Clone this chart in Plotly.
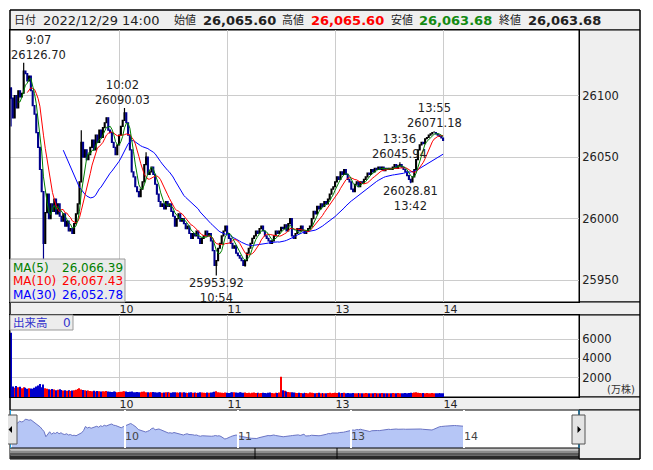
import plotly.graph_objects as go
import pandas as pd

W, H = 653, 470
OX, OY = 8, 8  # page body margin: reference pixel coords -> figure coords

# 1-minute bars, index 0 = 9:00, lunch break removed (index 150 = 12:30)
first_open = 26106.0
closes = [
    26098, 26082, 26100, 26090, 26104, 26099, 26102, 26120, 26118, 26112,
    26116, 26104, 26092, 26085, 26070, 26058, 26040, 26022, 25980, 26005,
    26020, 26000, 26012, 26006, 26016, 26004, 26012, 26002, 25998, 26004,
    25994, 25998, 25990, 25992, 25988, 25996, 26004, 26012, 26030, 26062,
    26050, 26056, 26048, 26052, 26058, 26064, 26056, 26068, 26062, 26072,
    26066, 26074, 26078, 26082, 26072, 26070, 26062, 26058, 26052, 26060,
    26068, 26075, 26080, 26086, 26078, 26068, 26056, 26038, 26034, 26026,
    26022, 26018, 26024, 26030, 26044, 26050, 26036, 26038, 26042, 26036,
    26028, 26020, 26014, 26010, 26012, 26008, 26014, 26010, 26012, 26006,
    26002, 25994, 26000, 26004, 25998, 26000, 25996, 25992, 25994, 25988,
    25984, 25988, 25986, 25990, 25984, 25980, 25984, 25986, 25990, 25986,
    25988, 25982, 25974, 25962, 25966, 25976, 25980, 25986, 25990, 25994,
    25988, 25984, 25980, 25976, 25978, 25972, 25970, 25968, 25966, 25962,
    25966, 25972, 25976, 25980, 25984, 25986, 25990, 25988, 25992, 25994,
    25990, 25986, 25984, 25982, 25980, 25982, 25986, 25990, 25988, 25990,
    25993, 25992, 25995, 25990, 25996, 26000, 25986, 25984, 25988, 25992,
    25990, 25994, 25990, 25988, 25990, 25992, 25994, 26000, 26006, 26004,
    26010, 26008, 26012, 26010, 26014, 26012, 26016, 26020, 26024, 26026,
    26030, 26034, 26032, 26038, 26036, 26040, 26036, 26032, 26030, 26024,
    26022, 26028, 26030, 26026, 26030, 26029, 26032, 26034, 26037, 26036,
    26040, 26038, 26041, 26040, 26042, 26040, 26042, 26039, 26041, 26040,
    26041, 26040, 26042, 26044, 26041, 26043, 26044, 26042, 26040, 26038,
    26035, 26032, 26030, 26034, 26040, 26048, 26056, 26060, 26062, 26061,
    26065, 26066, 26068, 26069, 26070, 26070, 26069, 26068, 26067, 26065.6,
    26063.68,
]
# volume in 万株
volume = [
    6650, 1100, 950, 1150, 1000, 1050, 900, 1000, 950, 850,
    900, 880, 850, 950, 1100, 1200, 1350, 1000, 1300, 900,
    850, 800, 760, 820, 780, 700, 760, 800, 720, 680,
    700, 650, 700, 620, 680, 700, 760, 820, 900, 780,
    720, 700, 650, 680, 620, 600, 640, 580, 620, 600,
    560, 600, 580, 620, 560, 540, 520, 560, 540, 500,
    520, 540, 560, 600, 560, 520, 540, 560, 500, 480,
    520, 500, 480, 540, 560, 500, 480, 460, 500, 520,
    480, 460, 500, 480, 440, 460, 500, 480, 460, 440,
    480, 500, 460, 440, 480, 460, 500, 440, 420, 460,
    480, 440, 460, 420, 440, 480, 460, 440, 420, 460,
    440, 460, 500, 540, 600, 480, 460, 440, 420, 460,
    440, 420, 460, 480, 500, 460, 440, 480, 460, 440,
    460, 420, 440, 400, 440, 460, 420, 440, 400, 420,
    440, 420, 400, 440, 460, 420, 400, 440, 420, 460,
    2100, 700, 640, 580, 520, 500, 480, 460, 440, 420,
    440, 420, 400, 440, 420, 400, 460, 440, 420, 400,
    420, 440, 400, 420, 380, 400, 420, 440, 400, 420,
    440, 420, 460, 400, 420, 440, 400, 420, 380, 400,
    420, 400, 380, 420, 400, 380, 400, 420, 380, 400,
    400, 380, 420, 400, 380, 400, 420, 400, 380, 400,
    380, 400, 420, 380, 400, 420, 400, 380, 400, 420,
    400, 420, 440, 420, 460, 500, 440, 420, 400, 420,
    400, 420, 400, 380, 420, 400, 380, 400, 420, 400,
    380,
]
high_marks = {0: 26107, 7: 26126.70, 39: 26072, 63: 26090.03, 75: 26054,
              216: 26045.94, 235: 26071.18}
low_marks = {0: 26075, 18: 25966, 114: 25953.92, 130: 25961, 222: 26028.81}

tick_minutes = [60, 120, 180, 240]
tick_labels = ["10", "11", "13", "14"]
price_ticks = [25950, 26000, 26050, 26100]
volume_ticks = [2000, 4000, 6000]

# minute, price, time text, value text, above the point?, x shift
peak_labels = [
    (7, 26126.70, "9:07", "26126.70", True, 15),
    (63, 26090.03, "10:02", "26090.03", True, -2),
    (114, 25953.92, "10:54", "25953.92", False, 0),
    (216, 26045.94, "13:36", "26045.94", True, 0),
    (222, 26028.81, "13:42", "26028.81", False, 0),
    (235, 26071.18, "13:55", "26071.18", True, 0),
]
ma_legend = [("MA(5)", "26,066.39", "#008000"),
             ("MA(10)", "26,067.43", "#ff0000"),
             ("MA(30)", "26,052.78", "#0000ff")]
header_items = [  # text, left px, size, bold, color
    ("日付", 12, 11, False, "#222"),
    ("2022/12/29 14:00", 41, 13, False, "#222"),
    ("始値", 172, 11, False, "#222"),
    ("26,065.60", 201, 13, True, "#222"),
    ("高値", 280, 11, False, "#222"),
    ("26,065.60", 309, 13, True, "#ff0000"),
    ("安値", 389, 11, False, "#222"),
    ("26,063.68", 417, 13, True, "#138a13"),
    ("終値", 497, 11, False, "#222"),
    ("26,063.68", 526, 13, True, "#222"),
]

df = pd.DataFrame({"close": closes, "volume": volume})
df["open"] = [first_open] + closes[:-1]
df["high"] = df[["open", "close"]].max(axis=1)
df["low"] = df[["open", "close"]].min(axis=1)
for k, v in high_marks.items():
    df.loc[k, "high"] = max(v, df.loc[k, "high"])
for k, v in low_marks.items():
    df.loc[k, "low"] = min(v, df.loc[k, "low"])
for n in (5, 10, 30):
    df[f"ma{n}"] = df["close"].rolling(n).mean()
up = df["close"] >= df["open"]
vol_colors = ["#ff0000" if u else "#0000cc" for u in up]


def fx(x):
    return (x - OX) / W


def fy(y):
    return 1 - (y - OY) / H


def px_rect(x0, y0, x1, y1, fill, line="black", width=1, layer="below"):
    return dict(type="rect", xref="paper", yref="paper",
                x0=fx(x0), x1=fx(x1), y0=fy(y1), y1=fy(y0),
                fillcolor=fill, line=dict(color=line, width=width), layer=layer)


def px_line(x0, y0, x1, y1, color="black", width=1):
    return dict(type="line", xref="paper", yref="paper",
                x0=fx(x0), x1=fx(x1), y0=fy(y0), y1=fy(y1),
                line=dict(color=color, width=width), layer="above")


def px_text(x, y, text, size=12, color="#222", anchor="left", bold=False):
    if bold:
        text = f"<b>{text}</b>"
    return dict(xref="paper", yref="paper", x=fx(x), y=fy(y),
                xanchor=anchor, yanchor="middle", showarrow=False, text=text,
                font=dict(size=size, color=color))


def tri(points):
    path = "M " + " L ".join(f"{fx(x)},{fy(y)}" for x, y in points) + " Z"
    return dict(type="path", xref="paper", yref="paper", layer="above",
                path=path, fillcolor="black", line=dict(width=0))


fig = go.Figure()
fig.add_trace(go.Candlestick(
    x=df.index, open=df["open"], high=df["high"], low=df["low"], close=df["close"],
    increasing=dict(line=dict(color="black", width=1.2), fillcolor="black"),
    decreasing=dict(line=dict(color="#00008c", width=1.2), fillcolor="#00008c"),
    whiskerwidth=0, xaxis="x", yaxis="y",
))
for n, color in ((30, "#0000ff"), (10, "#ff0000"), (5, "#008000")):
    fig.add_trace(go.Scatter(x=df.index, y=df[f"ma{n}"], mode="lines",
                             line=dict(color=color, width=1), xaxis="x", yaxis="y"))
fig.add_trace(go.Bar(x=df.index, y=df["volume"], marker_color=vol_colors,
                     marker_line_width=0, width=0.55, xaxis="x2", yaxis="y2"))
fig.add_trace(go.Scatter(x=df.index, y=df["close"], mode="lines", fill="tozeroy",
                         line=dict(color="#6a74c4", width=1), fillcolor="#b6c6f6",
                         xaxis="x3", yaxis="y3"))

axis_common = dict(showline=True, mirror=True, linecolor="black", linewidth=1,
                   zeroline=False, ticks="", fixedrange=True)
xdom = [fx(10), fx(579)]
fig.update_layout(
    width=W, height=H, margin=dict(l=0, r=0, t=0, b=0),
    paper_bgcolor="white", plot_bgcolor="white", showlegend=False, hovermode=False,
    font=dict(family="DejaVu Sans, Noto Sans CJK JP", size=12, color="#222"),
    xaxis=dict(domain=xdom, range=[-0.6, 315.5], anchor="y", tickvals=tick_minutes,
               ticktext=tick_labels, showgrid=True, gridcolor="#cccccc",
               ticklabelposition="outside right", ticklabelstandoff=-3,
               tickfont=dict(size=11), rangeslider=dict(visible=False), **axis_common),
    yaxis=dict(domain=[fy(302), fy(30)], range=[25932.3, 26153.4], anchor="x",
               side="right", tickvals=price_ticks, tickformat="d", showgrid=True,
               gridcolor="#cccccc", tickfont=dict(size=11.5), **axis_common),
    xaxis2=dict(domain=xdom, range=[-0.6, 315.5], anchor="y2", tickvals=tick_minutes,
                ticktext=tick_labels, showgrid=True, gridcolor="#cccccc",
                ticklabelposition="outside right", ticklabelstandoff=-3,
                tickfont=dict(size=11), **axis_common),
    yaxis2=dict(domain=[fy(397), fy(315)], range=[0, 8500], anchor="x2",
                side="right", tickvals=volume_ticks, tickformat="d", showgrid=True,
                gridcolor="#cccccc", tickfont=dict(size=11.5), **axis_common),
    xaxis3=dict(domain=[fx(12), fx(577)], range=[0, 300], anchor="y3",
                tickvals=tick_minutes, ticktext=tick_labels, showgrid=False,
                showline=False, zeroline=False, ticks="", fixedrange=True,
                ticklabelposition="inside right", tickfont=dict(size=11)),
    yaxis3=dict(domain=[fy(448), fy(410)], range=[25890, 26194], anchor="x3",
                showticklabels=False, showgrid=False, zeroline=False, fixedrange=True),
)

shapes = [
    px_rect(10, 10, 640, 30, "#efefef"),          # header
    px_rect(579, 30, 640, 302, "#efefef"),        # price scale panel
    px_rect(10, 302, 640, 315, "#efefef"),        # time strip
    px_rect(579, 315, 640, 397, "#efefef"),       # volume scale panel
    px_rect(10, 397, 640, 410, "#efefef"),        # time strip
    px_rect(579, 410, 640, 459, "#efefef"),
    px_rect(10, 10, 640, 459, "rgba(0,0,0,0)", layer="above"),
    # legend boxes
    px_rect(10, 259, 125, 302, "rgba(232,232,232,0.92)", line="#999999", layer="above"),
    px_rect(10, 315, 73, 330, "rgba(236,236,236,0.95)", line="#999999", layer="above"),
    # scrollbar
    px_rect(10, 448, 579, 450.5, "#c4c4c4", line="#c4c4c4", width=0, layer="above"),
    px_rect(10, 450.5, 579, 453, "#8c8c8c", line="#8c8c8c", width=0, layer="above"),
    px_rect(10, 453, 579, 455.5, "#5a5a5a", line="#5a5a5a", width=0, layer="above"),
    px_rect(10, 455.5, 579, 459, "#2a2a2a", line="#2a2a2a", width=0, layer="above"),
    px_line(10, 448, 579, 448),
    px_line(255, 448, 255, 459),
    px_line(337, 448, 337, 459),
    px_line(579, 410, 579, 459),
    # navigator edges and buttons
    px_line(10.5, 410, 10.5, 448, color="#22a0e0"),
    px_line(579, 410, 579, 448, color="#22a0e0"),
    px_rect(4, 415, 17, 444, "#e4e4e4", line="#555555", layer="above"),
    px_rect(572, 415, 585, 444, "#e4e4e4", line="#555555", layer="above"),
    tri([(8.5, 429.5), (12, 426), (12, 433)]),
    tri([(581, 429.5), (577.5, 426), (577.5, 433)]),
]
for m in tick_minutes:
    shapes.append(dict(type="line", xref="x3", yref="y3 domain", x0=m, x1=m, y0=0, y1=1,
                       line=dict(color="white", width=2), layer="above"))
fig.update_layout(shapes=shapes)

ann = []
for text, x, size, bold, color in header_items:
    ann.append(px_text(x, 20.5, text, size=size, color=color, bold=bold))
for k, (name, val, color) in enumerate(ma_legend):
    y = 267.5 + 13.8 * k
    ann.append(px_text(11, y, name, size=12, color=color))
    ann.append(px_text(125, y, val, size=12, color=color, anchor="right"))
ann.append(px_text(11, 323, "出来高", size=11.5, color="#3333cc"))
ann.append(px_text(73, 323, "0", size=12, color="#3333cc", anchor="right"))
ann.append(px_text(637, 389, "(万株)", size=10, color="#333", anchor="right"))
for m, price, t, v, above, xs in peak_labels:
    text = f"{t}<br>{v}" if above else f"{v}<br>{t}"
    ann.append(dict(xref="x", yref="y", x=m, y=price, text=text, showarrow=False,
                    xanchor="center", yanchor="bottom" if above else "top",
                    xshift=xs, yshift=0, borderpad=0,
                    font=dict(size=11.5, color="#222")))
fig.update_layout(annotations=ann)

fig.write_html("out.html")
